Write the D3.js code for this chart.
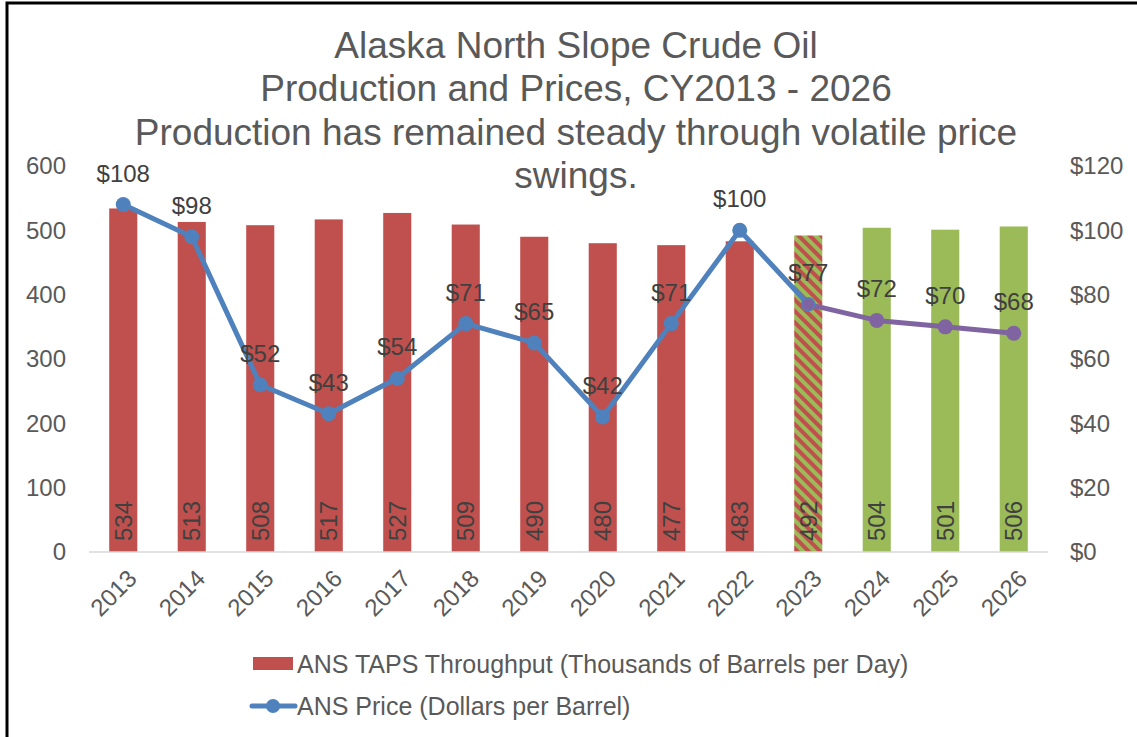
<!DOCTYPE html>
<html>
<head>
<meta charset="utf-8">
<script src="https://cdn.jsdelivr.net/npm/d3@7"></script>
<style>
  body { margin: 0; background: #fff; }
  text { font-family: "Liberation Sans", Arial, sans-serif; }
</style>
</head>
<body>
<div id="chart"></div>
<script>
// chart data
const years = ["2013", "2014", "2015", "2016", "2017", "2018", "2019", "2020", "2021", "2022", "2023", "2024", "2025", "2026"];
const production = [534, 513, 508, 517, 527, 509, 490, 480, 477, 483, 492, 504, 501, 506];
const prices = [108, 98, 52, 43, 54, 71, 65, 42, 71, 100, 77, 72, 70, 68];
// bar type: actual, partial estimate, forecast
const barKind = ["a", "a", "a", "a", "a", "a", "a", "a", "a", "a", "p", "f", "f", "f"];
const leftTicks = [0, 100, 200, 300, 400, 500, 600];
const rightTicks = [0, 20, 40, 60, 80, 100, 120];
const titleLines = ["Alaska North Slope Crude Oil", "Production and Prices, CY2013 - 2026",
  "Production has remained steady through volatile price", "swings."];
const legendLabels = ["ANS TAPS Throughput (Thousands of Barrels per Day)", "ANS Price (Dollars per Barrel)"];

const width = 1137, height = 737;
const margin = {left: 89, right: 89, top: 166, bottom: 185};
const red = "#C0504D", green = "#9BBB59", blue = "#4F81BD", purple = "#8064A2";
const textCol = "#595959";

const svg = d3.select("#chart").append("svg")
  .attr("width", width)
  .attr("height", height);

// hatch pattern for the 2023 bar
const defs = svg.append("defs");
const pat = defs.append("pattern")
  .attr("id", "hatch")
  .attr("patternUnits", "userSpaceOnUse")
  .attr("width", 8).attr("height", 8)
  .attr("patternTransform", "rotate(45)");
pat.append("rect").attr("width", 8).attr("height", 8).attr("fill", green);
pat.append("rect").attr("width", 8).attr("height", 4).attr("fill", red);

// border (left and top only)
svg.append("path")
  .attr("d", `M7,${height} V3 H${width}`)
  .attr("fill", "none")
  .attr("stroke", "#000")
  .attr("stroke-width", 3);

const x = d3.scaleBand()
  .domain(years)
  .range([margin.left, width - margin.right])
  .paddingInner(0.59)
  .paddingOuter(0.295);

const yL = d3.scaleLinear().domain([0, 600]).range([height - margin.bottom, margin.top]);
const yR = d3.scaleLinear().domain([0, 120]).range([height - margin.bottom, margin.top]);

// title
svg.append("text")
  .attr("text-anchor", "middle")
  .attr("fill", textCol)
  .attr("font-size", 37)
  .selectAll("tspan")
  .data(titleLines)
  .enter()
  .append("tspan")
    .attr("x", 576)
    .attr("y", (d, i) => 58 + i * 43.3)
    .text(d => d);

// axes
const axL = svg.append("g")
  .attr("transform", `translate(${margin.left},0)`)
  .call(d3.axisLeft(yL).tickValues(leftTicks).tickSize(0).tickPadding(23));
axL.select(".domain").remove();

const axR = svg.append("g")
  .attr("transform", `translate(${width - margin.right},0)`)
  .call(d3.axisRight(yR).tickValues(rightTicks).tickSize(0).tickPadding(22).tickFormat(d => "$" + d));
axR.select(".domain").remove();

svg.selectAll(".tick text")
  .attr("font-size", 24)
  .attr("fill", textCol)
  .attr("font-family", "Liberation Sans, Arial, sans-serif");

// bars
const bars = svg.append("g");
bars.selectAll("rect")
  .data(production)
  .enter()
  .append("rect")
    .attr("x", (d, i) => x(years[i]))
    .attr("y", d => yL(d))
    .attr("width", x.bandwidth())
    .attr("height", d => yL(0) - yL(d))
    .attr("fill", (d, i) => barKind[i] === "a" ? red : barKind[i] === "p" ? "url(#hatch)" : green);

bars.selectAll("text")
  .data(production)
  .enter()
  .append("text")
    .attr("transform", (d, i) => `translate(${x(years[i]) + x.bandwidth() / 2},${yL(0) - 11}) rotate(-90)`)
    .attr("dy", "0.35em")
    .attr("font-size", 24)
    .attr("fill", "#404040")
    .text(d => d);

// x axis line + labels
svg.append("line")
  .attr("x1", margin.left).attr("x2", width - margin.right)
  .attr("y1", yL(0)).attr("y2", yL(0))
  .attr("stroke", "#d9d9d9")
  .attr("stroke-width", 1.5);

svg.append("g").selectAll("text")
  .data(years)
  .enter()
  .append("text")
    .attr("transform", d => `translate(${x(d) + x.bandwidth() / 2 + 9},${yL(0) + 22}) rotate(-45)`)
    .attr("text-anchor", "end")
    .attr("dy", "0.35em")
    .attr("font-size", 24)
    .attr("fill", textCol)
    .text(d => d);

// price line
const cx = i => x(years[i]) + x.bandwidth() / 2;
const line = d3.line()
  .x(d => cx(d))
  .y(d => yR(prices[d]));
const idx = d3.range(prices.length);
svg.append("path")
  .attr("d", line(idx.filter(i => i <= 10)))
  .attr("fill", "none")
  .attr("stroke", blue)
  .attr("stroke-width", 5)
  .attr("stroke-linejoin", "round");
svg.append("path")
  .attr("d", line(idx.filter(i => i >= 10)))
  .attr("fill", "none")
  .attr("stroke", purple)
  .attr("stroke-width", 5)
  .attr("stroke-linejoin", "round");

svg.append("g").selectAll("circle")
  .data(prices)
  .enter()
  .append("circle")
    .attr("cx", (d, i) => cx(i))
    .attr("cy", d => yR(d))
    .attr("r", (d, i) => i === 10 ? 6.5 : 7.5)
    .attr("fill", (d, i) => i >= 10 ? purple : blue)
    .attr("stroke", (d, i) => i === 10 ? blue : "none")
    .attr("stroke-width", 1.5);

svg.append("g").selectAll("text")
  .data(prices)
  .enter()
  .append("text")
    .attr("x", (d, i) => cx(i))
    .attr("y", d => yR(d) - 23)
    .attr("text-anchor", "middle")
    .attr("font-size", 24)
    .attr("fill", "#404040")
    .text(d => "$" + d);

// legend
const leg = svg.append("g");
leg.append("rect")
  .attr("x", 253).attr("y", 657)
  .attr("width", 40).attr("height", 13)
  .attr("fill", red);
leg.append("line")
  .attr("x1", 252).attr("x2", 295)
  .attr("y1", 706).attr("y2", 706)
  .attr("stroke", blue).attr("stroke-width", 5).attr("stroke-linecap", "round");
leg.append("circle")
  .attr("cx", 273).attr("cy", 706).attr("r", 7).attr("fill", blue);
leg.selectAll("text")
  .data(legendLabels)
  .enter()
  .append("text")
    .attr("x", 297)
    .attr("y", (d, i) => 664 + i * 42)
    .attr("dy", "0.35em")
    .attr("font-size", 25)
    .attr("fill", textCol)
    .text(d => d);
</script>
</body>
</html>
